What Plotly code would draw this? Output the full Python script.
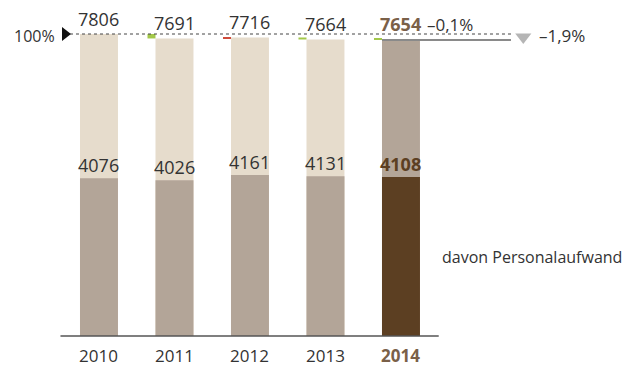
import plotly.graph_objects as go

years = ["2010", "2011", "2012", "2013", "2014"]
total = [7806, 7691, 7716, 7664, 7654]
personal = [4076, 4026, 4161, 4131, 4108]
change_last = "–0,1%"
change_total = "–1,9%"
legend_label = "davon Personalaufwand"

FONT = "Open Sans"
TXT = "#333333"
BROWN_TXT = "#7a6048"
LIGHT = "#e6dccc"
MID = "#b3a598"
DARK = "#5c3f22"
GREEN = "#a3c84a"
RED = "#cf4a3a"

x = list(range(len(years)))
bw = 0.503

fig = go.Figure()
fig.add_trace(go.Bar(x=x, y=total, width=bw,
                     marker=dict(color=[LIGHT] * 4 + [MID], line_width=0),
                     hoverinfo="skip"))
fig.add_trace(go.Bar(x=x, y=personal, width=bw,
                     marker=dict(color=[MID] * 4 + [DARK], line_width=0),
                     hoverinfo="skip"))

# change markers between consecutive totals
dx, db, dh, dc = [], [], [], []
for i in range(1, len(total)):
    d = total[i] - total[i - 1]
    dx.append(i - bw / 2 - 0.053)
    db.append(min(total[i], total[i - 1]))
    dh.append(max(abs(d), 25))
    dc.append(GREEN if d < 0 else RED)
fig.add_trace(go.Bar(x=dx, y=dh, base=db, width=0.106,
                     marker=dict(color=dc, line_width=0), hoverinfo="skip"))

# 100% marker
fig.add_trace(go.Scatter(x=[-0.45], y=[total[0]], mode="markers",
                         marker=dict(symbol="triangle-right", size=12, color="#111"),
                         hoverinfo="skip"))
fig.add_trace(go.Scatter(x=[5.62], y=[(total[0] + total[-1]) / 2], mode="markers",
                         marker=dict(symbol="triangle-down", size=14, color="#b5b5b5"),
                         hoverinfo="skip"))

shapes = [
    dict(type="line", xref="x", yref="y", x0=-0.384, x1=5.457,
         y0=total[0], y1=total[0], line=dict(color="#444", width=1, dash="dot")),
    dict(type="line", xref="x", yref="y", x0=4 - bw / 2, x1=5.457,
         y0=total[-1], y1=total[-1], line=dict(color="#8a8a8a", width=2)),
    dict(type="line", xref="x", yref="y", x0=-0.51, x1=4.5,
         y0=0, y1=0, line=dict(color="#555", width=1.5)),
]

ann = []
for i, (t, p) in enumerate(zip(total, personal)):
    last = i == len(total) - 1
    ann.append(dict(x=i, y=t, yanchor="bottom", yshift=1.5, showarrow=False,
                    text=f"<b>{t}</b>" if last else str(t),
                    font=dict(family=FONT, size=18, color=BROWN_TXT if last else TXT)))
    ann.append(dict(x=i, y=p, yanchor="bottom", yshift=-1, showarrow=False,
                    text=f"<b>{p}</b>" if last else str(p),
                    font=dict(family=FONT, size=18, color=DARK if last else TXT)))
    ann.append(dict(x=i, y=0, yanchor="middle", yshift=-19.5, showarrow=False,
                    text=f"<b>{years[i]}</b>" if last else years[i],
                    font=dict(family=FONT, size=17, color=BROWN_TXT if last else TXT)))
ann.append(dict(x=4.32, y=total[-1], xanchor="left", yanchor="bottom", yshift=1.5,
                showarrow=False, text=change_last,
                font=dict(family=FONT, size=17, color=TXT)))
ann.append(dict(x=-0.56, y=total[0], xanchor="right", yshift=-1.5, showarrow=False,
                text="100%", font=dict(family=FONT, size=16, color=TXT)))
ann.append(dict(x=5.8, y=(total[0] + total[-1]) / 2, xanchor="left", yshift=1.5,
                showarrow=False, text=change_total,
                font=dict(family=FONT, size=17, color=TXT)))
ann.append(dict(x=4.52, y=2030, xanchor="left", showarrow=False,
                text=legend_label, font=dict(family=FONT, size=16, color=TXT)))

fig.update_layout(
    width=632, height=367, margin=dict(l=0, r=0, t=0, b=0),
    paper_bgcolor="white", plot_bgcolor="white",
    barmode="overlay", showlegend=False,
    xaxis=dict(range=[-1.311, 7.060], visible=False, fixedrange=True),
    yaxis=dict(range=[-801, 8685], visible=False, fixedrange=True),
    shapes=shapes, annotations=ann,
)
fig.write_html("out.html", config={"displayModeBar": False})
